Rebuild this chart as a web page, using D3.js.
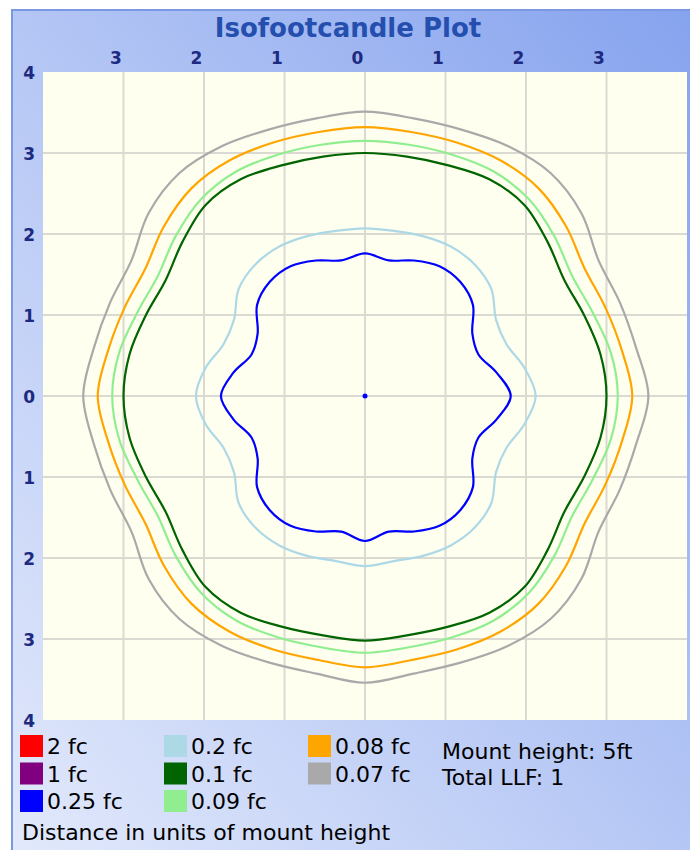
<!DOCTYPE html>
<html>
<head>
<meta charset="utf-8">
<script src="https://cdn.jsdelivr.net/npm/d3@7"></script>
<style>
  body { margin: 0; background: #fff; }
  svg { display: block; }
  text { font-family: "DejaVu Sans", Verdana, sans-serif; }
</style>
</head>
<body>
<svg id="chart" width="690" height="850"></svg>
<script>
// sample angles (degrees, counter-clockwise from +x) for every contour
var angles = [0,10,20,30,40,50,60,70,80,90,100,110,120,130,140,150,160,170,
              180,190,200,210,220,230,240,250,260,270,280,290,300,310,320,330,340,350];

// radius of each isofootcandle line, in units of mount height
var r025 = [1.81,1.66,1.50,1.54,1.75,1.84,1.85,1.78,1.70,1.76, 1.70,1.78,1.85,1.84,1.75,1.54,1.50,1.66,
            1.79,1.66,1.50,1.54,1.75,1.84,1.85,1.78,1.70,1.79, 1.70,1.78,1.85,1.84,1.75,1.54,1.50,1.66];
var r02  = [2.12,2.01,1.87,1.88,2.05,2.12,2.13,2.10,2.07,2.07, 2.07,2.10,2.13,2.12,2.05,1.88,1.87,2.01,
            2.10,2.01,1.87,1.88,2.05,2.12,2.13,2.10,2.07,2.10, 2.07,2.10,2.13,2.12,2.05,1.88,1.87,2.01];
var r01  = [3.00,2.97,2.90,2.86,2.96,3.08,3.09,3.03,3.00,3.00, 3.00,3.03,3.09,3.08,2.96,2.86,2.90,2.97,
            3.00,2.97,2.90,2.86,2.96,3.08,3.09,3.03,3.00,3.02, 3.00,3.03,3.09,3.08,2.96,2.86,2.90,2.97];
var r009 = [3.14,3.10,3.01,2.97,3.07,3.17,3.20,3.17,3.15,3.15, 3.15,3.17,3.20,3.17,3.07,2.97,3.01,3.10,
            3.14,3.10,3.01,2.97,3.07,3.17,3.20,3.17,3.15,3.17, 3.15,3.17,3.20,3.17,3.07,2.97,3.01,3.10];
var r008 = [3.32,3.24,3.18,3.15,3.26,3.35,3.36,3.33,3.31,3.32, 3.31,3.33,3.36,3.35,3.26,3.15,3.18,3.24,
            3.32,3.24,3.18,3.15,3.26,3.35,3.36,3.33,3.31,3.35, 3.31,3.33,3.36,3.35,3.26,3.15,3.18,3.24];
var r007 = [3.52,3.42,3.37,3.35,3.51,3.59,3.56,3.50,3.48,3.51, 3.48,3.50,3.56,3.59,3.51,3.35,3.37,3.42,
            3.50,3.42,3.37,3.35,3.51,3.59,3.56,3.50,3.48,3.54, 3.48,3.50,3.56,3.59,3.51,3.35,3.37,3.42];

var contourRadii  = [r007, r008, r009, r01, r02, r025];
var contourColors = ["#a9a9a9", "#ffa500", "#90ee90", "#006400", "#add8e6", "#0000ff"];

// axis ticks
var xTicks = [-3,-2,-1,0,1,2,3];
var xTickLabels = ["3","2","1","0","1","2","3"];
var yTicks = [4,3,2,1,0,-1,-2,-3,-4];
var yTickLabels = ["4","3","2","1","0","1","2","3","4"];

// legend
var legendNames  = ["2 fc","1 fc","0.25 fc","0.2 fc","0.1 fc","0.09 fc","0.08 fc","0.07 fc"];
var legendColors = ["#ff0000","#800080","#0000ff","#add8e6","#006400","#90ee90","#ffa500","#a9a9a9"];
var infoLines = ["Mount height: 5ft", "Total LLF: 1"];

var svg = d3.select("#chart");

// panel background
var defs = svg.append("defs");
var grad = defs.append("linearGradient")
    .attr("id", "panelGrad")
    .attr("x1", 0).attr("y1", 1).attr("x2", 1).attr("y2", 0);
grad.append("stop").attr("offset", "0%").attr("stop-color", "#e2e9fb");
grad.append("stop").attr("offset", "100%").attr("stop-color", "#86a3ee");

svg.append("rect")
    .attr("x", 12).attr("y", 10)
    .attr("width", 690 - 12).attr("height", 850 - 10)
    .attr("fill", "url(#panelGrad)");
svg.append("path")
    .attr("d", "M12,850V10H690")
    .attr("fill", "none")
    .attr("stroke", "#7b98e2")
    .attr("stroke-width", 2);

// title
svg.append("text")
    .attr("x", 348).attr("y", 37)
    .attr("text-anchor", "middle")
    .attr("font-size", 26)
    .attr("font-weight", "bold")
    .attr("fill", "#244fae")
    .text("Isofootcandle Plot");

var x = d3.scaleLinear().domain([-4, 4]).range([43, 687]);
var y = d3.scaleLinear().domain([-4, 4]).range([720, 72]);

// plot area
svg.append("rect")
    .attr("x", x(-4)).attr("y", y(4))
    .attr("width", x(4) - x(-4)).attr("height", y(-4) - y(4))
    .attr("fill", "#fffff0");

var grid = svg.append("g").attr("stroke", "#dbdad2").attr("stroke-width", 2);
grid.selectAll(".vx").data(xTicks).enter().append("line")
    .attr("x1", function(d){ return x(d); }).attr("x2", function(d){ return x(d); })
    .attr("y1", y(4)).attr("y2", y(-4));
grid.selectAll(".hy").data(yTicks.filter(function(d){ return Math.abs(d) < 4; })).enter().append("line")
    .attr("y1", function(d){ return y(d); }).attr("y2", function(d){ return y(d); })
    .attr("x1", x(-4)).attr("x2", x(4));

// axes labels
var topAxis = d3.axisTop(x).tickValues(xTicks).tickSize(0)
    .tickFormat(function(d, i){ return xTickLabels[i]; });
var gTop = svg.append("g").attr("transform", "translate(-8," + (y(4) - 5) + ")").call(topAxis);
gTop.select(".domain").remove();
gTop.selectAll("text").attr("font-size", 17).attr("font-weight", "bold").attr("fill", "#1c2a80")
    .attr("font-family", "DejaVu Sans, sans-serif");

var leftAxis = d3.axisLeft(y).tickValues(yTicks).tickSize(0)
    .tickFormat(function(d, i){ return yTickLabels[i]; });
var gLeft = svg.append("g").attr("transform", "translate(" + (x(-4) - 5) + ",1)").call(leftAxis);
gLeft.select(".domain").remove();
gLeft.selectAll("text").attr("font-size", 17).attr("font-weight", "bold").attr("fill", "#1c2a80")
    .attr("font-family", "DejaVu Sans, sans-serif");

// contours
var line = d3.line()
    .x(function(d){ return x(d[0]); })
    .y(function(d){ return y(d[1]); })
    .curve(d3.curveCatmullRomClosed.alpha(0.5));

contourRadii.forEach(function(radii, k) {
    var pts = radii.map(function(r, i) {
        var a = angles[i] * Math.PI / 180;
        return [r * Math.cos(a), r * Math.sin(a)];
    });
    svg.append("path")
        .attr("d", line(pts))
        .attr("fill", "none")
        .attr("stroke", contourColors[k])
        .attr("stroke-width", 2.2);
});

// luminaire position
svg.append("circle")
    .attr("cx", x(0)).attr("cy", y(0)).attr("r", 2.5)
    .attr("fill", "#0000ff");

// legend
var legend = svg.append("g");
var item = legend.selectAll("g").data(legendNames).enter().append("g")
    .attr("transform", function(d, i){
        var col = Math.floor(i / 3), row = i % 3;
        return "translate(" + (20 + col * 144) + "," + (735 + row * 27.5) + ")";
    });
item.append("rect")
    .attr("width", 23).attr("height", 22)
    .attr("fill", function(d, i){ return legendColors[i]; });
item.append("text")
    .attr("x", 27).attr("y", 19)
    .attr("font-size", 22)
    .attr("fill", "#000")
    .text(function(d){ return d; });

legend.selectAll(".info").data(infoLines).enter().append("text")
    .attr("x", 442).attr("y", function(d, i){ return 759 + i * 26; })
    .attr("font-size", 22)
    .attr("fill", "#000")
    .text(function(d){ return d; });

svg.append("text")
    .attr("x", 22).attr("y", 840)
    .attr("font-size", 22)
    .attr("fill", "#000")
    .text("Distance in units of mount height");
</script>
</body>
</html>
